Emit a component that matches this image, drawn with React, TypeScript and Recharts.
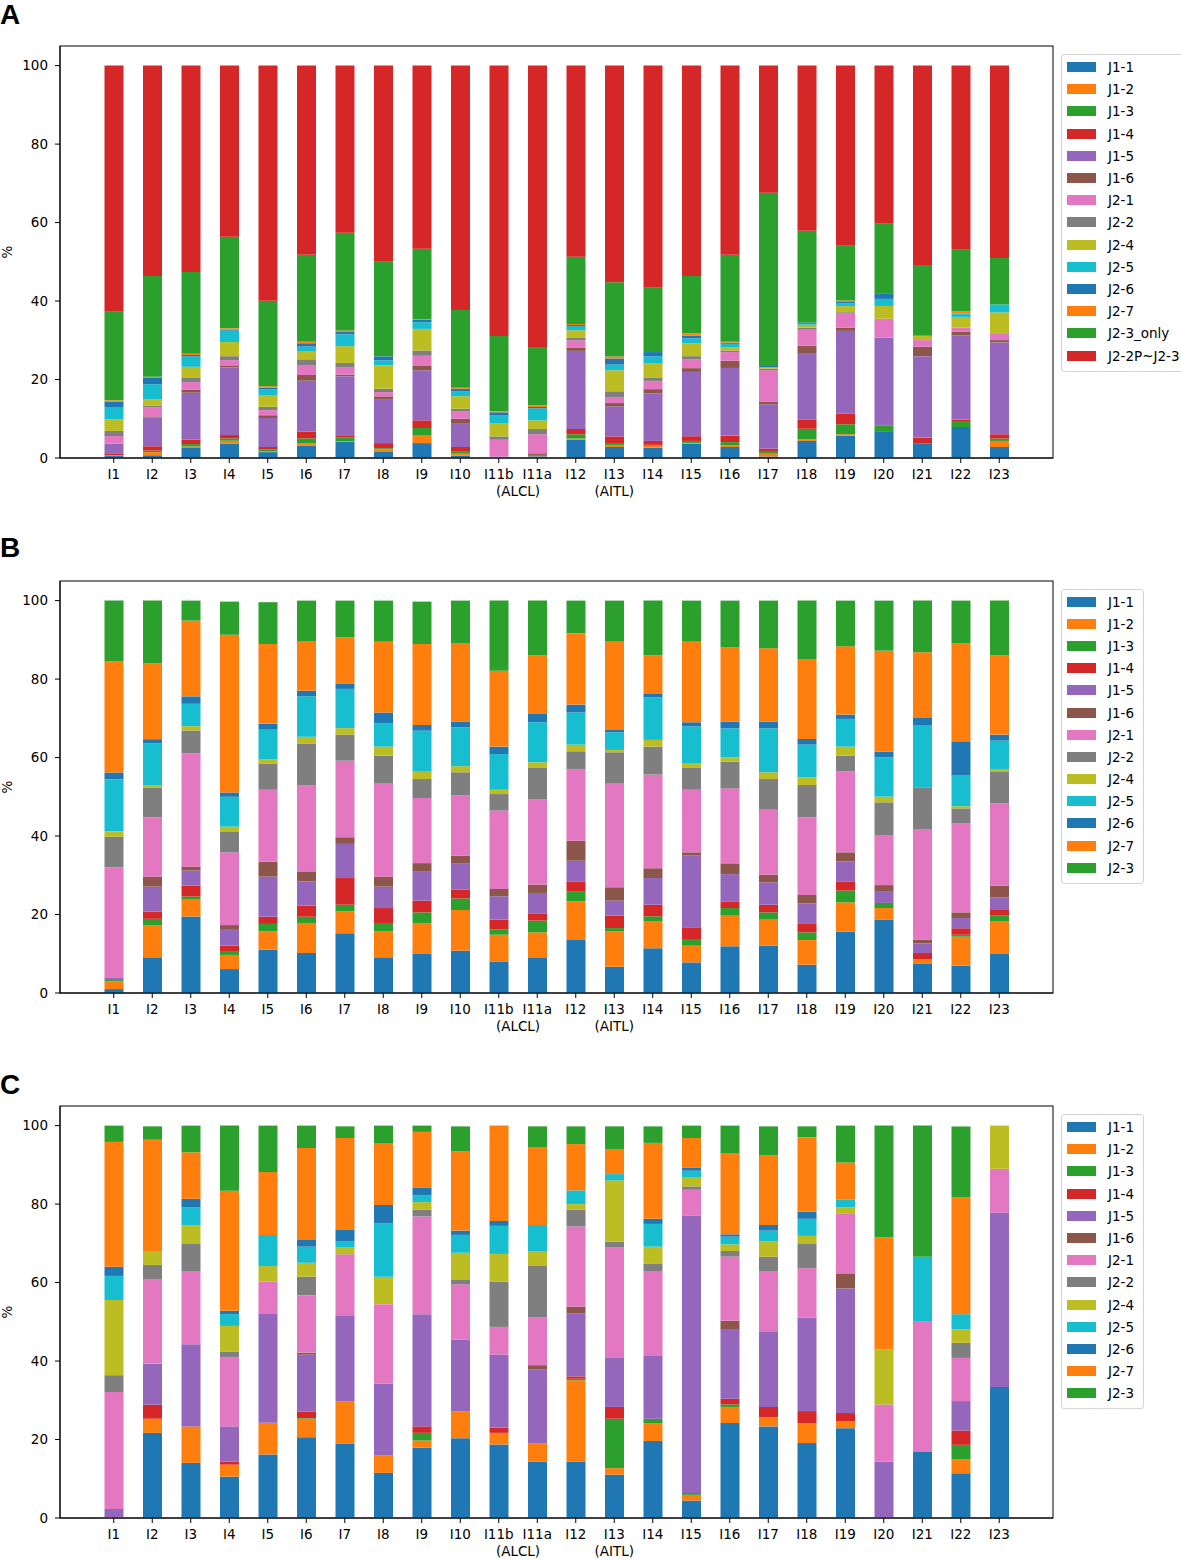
import React from 'react';
import { BarChart, Bar, XAxis, YAxis, Legend, ReferenceArea } from 'recharts';

// ---------- categories & labels ----------
const categories = ['I1', 'I2', 'I3', 'I4', 'I5', 'I6', 'I7', 'I8', 'I9', 'I10', 'I11b', 'I11a', 'I12', 'I13', 'I14', 'I15', 'I16', 'I17', 'I18', 'I19', 'I20', 'I21', 'I22', 'I23'];
const subLabelCats = ['I11b', 'I13'];
const subLabelTexts = ['(ALCL)', '(AITL)'];
const subLabelShift = [0.5, 0]; // in category steps
const yTicks = [0, 20, 40, 60, 80, 100];
const panelLetters = ['A', 'B', 'C'];

const seriesNamesA = ['J1-1', 'J1-2', 'J1-3', 'J1-4', 'J1-5', 'J1-6', 'J2-1', 'J2-2', 'J2-4', 'J2-5', 'J2-6', 'J2-7', 'J2-3_only', 'J2-2P~J2-3'];
const seriesNamesBC = ['J1-1', 'J1-2', 'J1-3', 'J1-4', 'J1-5', 'J1-6', 'J2-1', 'J2-2', 'J2-4', 'J2-5', 'J2-6', 'J2-7', 'J2-3'];

// ---------- Panel A values (%) ----------
const a_J1_1 = [0.5, 0.7, 2.55, 3.7, 1.5, 3.1, 4.1, 1.7, 3.8, 0.6, 0, 0, 4.7, 2.8, 2.65, 3.65, 2.8, 0.4, 4.35, 5.7, 6.65, 3.65, 7.9, 2.8];
const a_J1_2 = [0.1, 0.8, 0.4, 0.7, 0.2, 0.6, 0.2, 0.5, 1.9, 0.5, 0, 0, 0.25, 0.5, 0.45, 0.2, 0.4, 0.7, 0.4, 0.35, 0, 0, 0, 1.55];
const a_J1_3 = [0.1, 0.4, 0.6, 0.6, 0.5, 1.3, 0.9, 0.3, 1.95, 0.5, 0, 0.4, 1.1, 0.5, 0.25, 0.5, 0.85, 0.7, 2.7, 2.55, 1.6, 0, 1.3, 0.6];
const a_J1_4 = [0.5, 1.1, 1.1, 0.85, 0.6, 1.7, 0.6, 1.3, 1.95, 1.2, 0, 0, 1.35, 1.7, 1.0, 1.2, 1.6, 0.6, 2.4, 2.7, 0, 1.55, 0.6, 1.1];
const a_J1_5 = [2.5, 7.3, 12.0, 17.3, 7.4, 13.0, 15.05, 11.05, 12.75, 6.1, 0.4, 0.4, 19.9, 7.65, 12.1, 16.4, 17.3, 11.3, 16.9, 21.1, 22.4, 20.75, 21.5, 23.4];
const a_J1_6 = [0, 0.3, 0.8, 0.3, 0.7, 1.45, 0.4, 0.85, 1.1, 1.1, 0, 0.4, 0.75, 0.85, 1.1, 0.95, 1.85, 0.6, 1.85, 0.85, 0, 2.4, 0.85, 0.6];
const a_J2_1 = [1.9, 2.3, 1.9, 1.5, 1.3, 2.55, 1.95, 1.1, 2.6, 1.95, 4.25, 4.85, 1.95, 1.55, 2.1, 2.2, 2.2, 8.1, 4.1, 3.55, 4.85, 1.7, 1.1, 1.55];
const a_J2_2 = [1.3, 0.4, 1.2, 1.0, 0.85, 1.45, 1.0, 0.85, 1.35, 0.6, 0.85, 1.35, 0.6, 1.45, 0.75, 0.85, 0.4, 0.35, 0.5, 0.35, 0, 0, 0, 0];
const a_J2_4 = [3.0, 1.7, 2.7, 3.6, 3.0, 1.95, 4.3, 5.95, 5.5, 3.2, 3.4, 2.2, 1.95, 5.35, 3.65, 3.25, 0.85, 0.35, 0.75, 1.55, 3.25, 1.1, 2.7, 5.5];
const a_J2_5 = [3.1, 3.8, 2.7, 2.9, 1.5, 1.3, 3.0, 1.3, 1.7, 1.2, 2.05, 3.05, 1.1, 1.45, 1.85, 1.3, 0.85, 0, 0.25, 0.7, 1.8, 0, 0.85, 2.05];
const a_J2_6 = [1.4, 1.6, 0.3, 0.3, 0.4, 0.85, 0.6, 1.0, 0.6, 0.7, 0.7, 0.35, 0.25, 1.55, 1.1, 0.7, 0.3, 0.35, 0.35, 0.35, 1.45, 0, 0, 0];
const a_J2_7 = [0.3, 0.3, 0.3, 0.3, 0.35, 0.35, 0.4, 0, 0.25, 0.25, 0.3, 0.35, 0.25, 0.5, 0, 0.5, 0.25, 0, 0, 0.4, 0, 0, 0.6, 0];
const a_J2_3only = [22.6, 25.7, 20.85, 23.35, 21.75, 22.2, 24.9, 24.1, 17.85, 19.8, 19.15, 14.95, 17.15, 18.95, 16.4, 14.7, 22.15, 44.15, 23.35, 13.95, 17.7, 18.05, 15.7, 11.85];
const a_J2_2P = [62.7, 53.6, 52.6, 43.6, 59.95, 48.2, 42.6, 50.0, 46.7, 62.3, 68.9, 71.7, 48.7, 55.2, 56.6, 53.6, 48.2, 32.4, 42.1, 45.9, 40.3, 50.8, 46.9, 49.0];

// ---------- Panel B values (%) ----------
const b_J1_1 = [1.0, 9.1, 19.5, 6.1, 11.05, 10.2, 15.2, 9.1, 9.95, 10.8, 8.05, 9.1, 13.5, 6.7, 11.4, 7.8, 11.9, 12.05, 7.2, 15.7, 18.7, 7.55, 6.95, 10.1];
const b_J1_2 = [2.0, 8.2, 4.3, 3.6, 4.65, 7.65, 5.6, 6.6, 7.9, 10.35, 6.8, 6.35, 9.85, 9.0, 6.8, 4.25, 7.8, 6.65, 6.3, 7.4, 2.95, 1.1, 7.4, 8.1];
const b_J1_3 = [0.3, 1.6, 0.8, 0.8, 1.9, 1.6, 1.7, 2.15, 2.7, 2.95, 1.3, 3.0, 2.45, 0.85, 1.35, 1.7, 1.95, 1.85, 1.95, 3.0, 1.3, 0, 0.5, 1.5];
const b_J1_4 = [0, 1.8, 2.8, 1.6, 1.85, 2.8, 6.8, 3.8, 3.0, 2.2, 2.55, 1.85, 2.65, 3.15, 2.95, 3.0, 1.7, 1.95, 2.15, 2.35, 0, 1.55, 1.65, 1.45];
const b_J1_5 = [0.7, 6.4, 3.8, 4.0, 10.2, 6.2, 8.7, 5.45, 7.35, 6.8, 5.95, 5.2, 5.25, 3.85, 6.8, 18.25, 6.95, 5.7, 5.25, 5.1, 2.85, 2.45, 2.6, 3.25];
const b_J1_6 = [0, 2.55, 1.0, 1.2, 3.85, 2.55, 1.7, 2.55, 2.2, 1.9, 1.85, 2.1, 5.1, 3.4, 2.5, 0.85, 2.75, 1.95, 2.15, 2.3, 1.7, 0.95, 1.45, 2.95];
const b_J2_1 = [28.0, 15.15, 28.9, 18.55, 18.3, 21.85, 19.5, 23.85, 16.6, 15.3, 20.0, 21.7, 18.3, 26.55, 23.85, 15.95, 19.1, 16.55, 19.8, 20.65, 12.6, 28.2, 22.7, 21.0];
const b_J2_2 = [7.85, 7.6, 5.8, 5.35, 6.6, 10.75, 6.65, 7.0, 4.85, 5.95, 4.2, 8.2, 4.5, 7.85, 7.15, 5.7, 6.8, 7.85, 8.2, 4.0, 8.5, 10.6, 3.8, 8.15];
const b_J2_4 = [1.35, 0.45, 1.1, 1.2, 1.1, 1.7, 1.65, 2.3, 1.85, 1.55, 1.1, 1.3, 1.7, 0.6, 1.7, 1.1, 1.1, 1.7, 1.95, 2.3, 1.45, 0, 0.55, 0.6];
const b_J2_5 = [13.3, 10.75, 5.7, 7.6, 7.6, 10.3, 10.0, 5.9, 10.45, 9.9, 9.1, 10.2, 8.2, 4.5, 10.9, 9.35, 7.4, 11.2, 8.35, 7.05, 10.0, 15.9, 7.95, 7.2];
const b_J2_6 = [1.7, 1.1, 1.9, 1.1, 1.5, 1.45, 1.4, 2.8, 1.45, 1.45, 1.9, 2.1, 2.0, 0.6, 0.8, 1.05, 1.7, 1.7, 1.45, 1.1, 1.45, 1.8, 8.6, 1.55];
const b_J2_7 = [28.3, 19.3, 19.3, 40.2, 20.35, 12.5, 11.75, 18.05, 20.65, 20.05, 19.35, 14.9, 18.2, 22.5, 9.8, 20.55, 18.95, 18.7, 20.4, 17.4, 25.75, 16.75, 25.05, 20.15];
const b_J2_3 = [15.5, 16.0, 5.1, 8.45, 10.65, 10.45, 9.35, 10.45, 10.8, 10.8, 17.85, 14.0, 8.3, 10.45, 14.0, 10.45, 11.9, 12.15, 14.85, 11.65, 12.75, 13.15, 10.8, 14.0];

// ---------- Panel C values (%) ----------
const c_J1_1 = [0, 21.7, 14.05, 10.55, 16.2, 20.6, 18.9, 11.5, 17.9, 20.35, 18.75, 14.4, 14.4, 11.05, 19.6, 4.45, 24.2, 23.35, 19.1, 22.9, 0, 16.8, 11.4, 33.4];
const c_J1_2 = [0, 3.6, 9.3, 3.05, 8.1, 4.7, 10.9, 4.45, 1.85, 6.8, 2.95, 4.7, 20.7, 1.65, 4.6, 1.45, 4.1, 2.35, 5.1, 1.8, 0, 0, 3.5, 0];
const c_J1_3 = [0, 0, 0, 0, 0, 0.15, 0, 0, 1.95, 0, 0, 0, 0.4, 12.6, 1.1, 0.5, 0.65, 0, 0, 0, 0, 0, 3.75, 0];
const c_J1_4 = [0, 3.6, 0, 0.8, 0, 1.7, 0, 0, 1.65, 0, 1.3, 0, 0.6, 3.0, 0, 0, 1.45, 2.6, 3.05, 2.05, 0, 0, 3.65, 0];
const c_J1_5 = [2.3, 10.45, 20.95, 8.95, 27.85, 14.5, 21.9, 18.3, 28.6, 18.35, 18.65, 18.7, 16.05, 12.5, 16.0, 70.6, 17.75, 19.3, 23.85, 31.75, 14.4, 0, 7.5, 44.45];
const c_J1_6 = [0, 0, 0, 0, 0, 0.5, 0, 0, 0, 0, 0, 1.15, 1.7, 0, 0, 0, 2.1, 0, 0, 3.85, 0, 0, 0, 0];
const c_J2_1 = [29.8, 21.55, 18.65, 17.7, 8.05, 14.65, 15.5, 20.25, 24.9, 14.05, 7.05, 12.15, 20.45, 28.1, 21.65, 6.65, 16.35, 15.35, 12.55, 15.15, 14.5, 33.2, 11.0, 11.15];
const c_J2_2 = [4.3, 3.6, 7.05, 1.3, 0, 4.7, 0, 0, 1.7, 1.1, 11.5, 13.1, 4.25, 1.55, 1.8, 0.85, 1.45, 3.65, 6.35, 0, 0, 0, 3.85, 0];
const c_J2_4 = [19.15, 3.55, 4.55, 6.6, 4.0, 3.55, 1.7, 7.0, 1.95, 6.95, 7.1, 3.85, 1.45, 15.6, 4.4, 2.4, 1.7, 3.85, 1.9, 1.7, 14.05, 0, 3.45, 11.0];
const c_J2_5 = [6.15, 0, 4.65, 3.0, 7.95, 4.1, 1.55, 13.6, 1.7, 4.55, 7.15, 6.65, 3.5, 1.6, 5.8, 1.6, 1.95, 2.8, 4.35, 1.9, 0, 16.6, 3.85, 0];
const c_J2_6 = [2.35, 0, 2.15, 0.85, 0, 1.7, 2.95, 4.7, 2.05, 1.1, 1.25, 0, 0, 0, 1.3, 0.85, 0.6, 1.45, 1.85, 0, 0, 0, 0, 0];
const c_J2_7 = [31.8, 28.35, 11.85, 30.6, 16.0, 23.45, 23.45, 15.75, 14.15, 20.2, 24.3, 19.85, 11.8, 6.4, 19.35, 7.5, 20.55, 17.65, 18.9, 9.5, 28.6, 0, 29.75, 0];
const c_J2_3 = [4.15, 3.4, 6.8, 16.6, 11.85, 5.7, 2.95, 4.45, 1.6, 6.35, 0, 5.25, 4.5, 5.75, 4.2, 3.15, 7.15, 7.45, 2.8, 9.4, 28.45, 33.4, 18.1, 0];

const seriesA = [a_J1_1, a_J1_2, a_J1_3, a_J1_4, a_J1_5, a_J1_6, a_J2_1, a_J2_2, a_J2_4, a_J2_5, a_J2_6, a_J2_7, a_J2_3only, a_J2_2P];
const seriesB = [b_J1_1, b_J1_2, b_J1_3, b_J1_4, b_J1_5, b_J1_6, b_J2_1, b_J2_2, b_J2_4, b_J2_5, b_J2_6, b_J2_7, b_J2_3];
const seriesC = [c_J1_1, c_J1_2, c_J1_3, c_J1_4, c_J1_5, c_J1_6, c_J2_1, c_J2_2, c_J2_4, c_J2_5, c_J2_6, c_J2_7, c_J2_3];

// ---------- styling ----------
const tab10 = ['#1f77b4', '#ff7f0e', '#2ca02c', '#d62728', '#9467bd', '#8c564b', '#e377c2', '#7f7f7f', '#bcbd22', '#17becf'];
const colorFor = (i: number) => tab10[i % 10];

const FONT = 'DejaVu Sans, Verdana, sans-serif';
const FS = 13.5;
const CHART_W = 1181;
const CHART_H = 520;
const MARGIN = { top: 46, right: 128, bottom: 22, left: 0 };
const Y_AXIS_W = 60;
const X_PAD = 34.5;
const PLOT_W = CHART_W - MARGIN.right - Y_AXIS_W;
const STEP = (PLOT_W - 2 * X_PAD) / categories.length;

function buildRows(arrays: number[][]) {
  return categories.map((c, i) => {
    const row: Record<string, any> = { name: c };
    arrays.forEach((arr, j) => {
      row['s' + j] = arr[i];
    });
    return row;
  });
}

const XTick = (props: any) => {
  const { x, y, payload } = props;
  const idx = subLabelCats.indexOf(payload.value);
  return (
    <g>
      <text x={x} y={y} dy={14} textAnchor="middle" fontFamily={FONT} fontSize={FS} fill="#000">
        {payload.value}
      </text>
      {idx >= 0 && (
        <text x={x + subLabelShift[idx] * STEP} y={y} dy={30.5} textAnchor="middle" fontFamily={FONT} fontSize={FS} fill="#000">
          {subLabelTexts[idx]}
        </text>
      )}
    </g>
  );
};

const makeLegend = (names: string[], width: number) => () => {
  return (
    <div
      style={{
        width,
        boxSizing: 'border-box',
        border: '1px solid #d4d4d4',
        borderRadius: 3,
        background: '#fff',
        padding: '1px 0 4px 0',
        fontFamily: FONT,
        fontSize: FS,
        color: '#000',
        whiteSpace: 'nowrap',
      }}
    >
      {names.map((n, i) => (
        <div key={i} style={{ height: 22.2, display: 'flex', alignItems: 'center' }}>
          <span style={{ display: 'inline-block', width: 29, height: 10, background: colorFor(i), marginLeft: 5, marginRight: 12 }} />
          <span>{n}</span>
        </div>
      ))}
    </div>
  );
};

const YLabel = (props: any) => {
  const vb = props.viewBox || { x: 0, y: 0, width: 60, height: 412 };
  const cx = vb.x + 7;
  const cy = vb.y + vb.height / 2;
  return (
    <text x={cx} y={cy} transform={`rotate(-90 ${cx} ${cy})`} textAnchor="middle" dominantBaseline="central" fontFamily={FONT} fontSize={FS} fill="#000">
      %
    </text>
  );
};

// frame around the whole plot area (the category scale range excludes the axis padding)
const FrameShape = (p: any) => (
  <rect x={p.x - X_PAD} y={p.y} width={p.width + 2 * X_PAD} height={p.height} fill="none" stroke="#000" strokeWidth={1} />
);

type PanelProps = {
  top: number;
  names: string[];
  arrays: number[][];
  legendWidth: number;
};

function Panel({ top, names, arrays, legendWidth }: PanelProps) {
  const rows = buildRows(arrays);
  return (
    <div style={{ position: 'absolute', left: 0, top, width: CHART_W, height: CHART_H }}>
      <BarChart width={CHART_W} height={CHART_H} data={rows} margin={MARGIN} barSize={19}>
        <XAxis
          dataKey="name"
          interval={0}
          height={40}
          padding={{ left: X_PAD, right: X_PAD }}
          tickSize={5}
          tickMargin={2}
          tick={<XTick />}
          axisLine={{ stroke: '#000', strokeWidth: 1 }}
          tickLine={{ stroke: '#000', strokeWidth: 1 }}
        />
        <YAxis
          type="number"
          domain={[0, 105]}
          ticks={yTicks}
          width={Y_AXIS_W}
          tickSize={5}
          tickMargin={7}
          tick={{ fontFamily: FONT, fontSize: FS, fill: '#000' }}
          axisLine={{ stroke: '#000', strokeWidth: 1 }}
          tickLine={{ stroke: '#000', strokeWidth: 1 }}
          label={(p: any) => <YLabel {...p} />}
        />
        <Legend
          layout="horizontal"
          align="center"
          verticalAlign="middle"
          wrapperStyle={{ left: 1061, top: 54, width: legendWidth, height: names.length * 22.2 + 8 }}
          content={makeLegend(names, legendWidth)}
        />
        {names.map((n, j) => (
          <Bar key={n} dataKey={'s' + j} name={n} stackId="s" fill={colorFor(j)} isAnimationActive={false} />
        ))}
        <ReferenceArea y1={0} y2={105} ifOverflow="visible" shape={FrameShape} />
      </BarChart>
    </div>
  );
}

const letterTops = [1.3, 534.3, 1071.3];

export default function App() {
  return (
    <div
      style={{
        position: 'absolute',
        left: 0,
        top: 0,
        width: 1181,
        height: 1559,
        overflow: 'hidden',
        background: '#fff',
        fontFamily: FONT,
      }}
    >
      <Panel top={0} names={seriesNamesA} arrays={seriesA} legendWidth={140} />
      <Panel top={534.5} names={seriesNamesBC} arrays={seriesB} legendWidth={83} />
      <Panel top={1060} names={seriesNamesBC} arrays={seriesC} legendWidth={83} />
      {panelLetters.map((l, i) => (
        <div
          key={l}
          style={{
            position: 'absolute',
            left: 0,
            top: letterTops[i],
            fontFamily: 'Liberation Sans, Arial, sans-serif',
            fontWeight: 'bold',
            fontSize: 28,
            lineHeight: '28px',
            color: '#000',
          }}
        >
          {l}
        </div>
      ))}
    </div>
  );
}
